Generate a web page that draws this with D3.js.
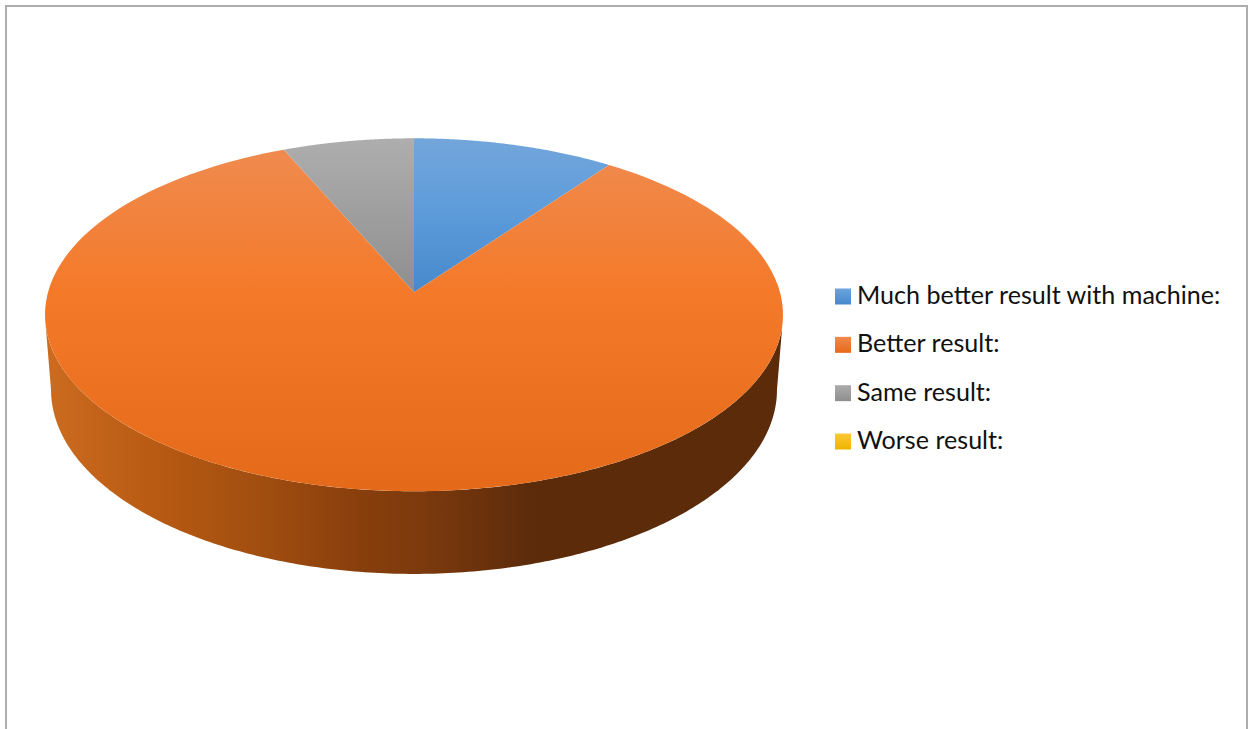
<!DOCTYPE html>
<html>
<head>
<meta charset="utf-8">
<script src="https://cdn.jsdelivr.net/npm/d3@7"></script>
<style>
html,body{margin:0;padding:0;background:#fff;overflow:hidden}
svg{display:block}
text{font-family:Lato,"Open Sans",sans-serif;fill:#111}
</style>
</head>
<body>
<svg id="c" width="1250" height="729"></svg>
<script>
const categories = ["Much better result with machine:", "Better result:", "Same result:", "Worse result:"];
const values = [10, 83.5, 6.5, 0];
const topStops = [
  [["0", "#73a6da"], ["0.2", "#5e9cdb"], ["0.45", "#4688cb"], ["1", "#3f7fc0"]],
  [["0", "#ef8c52"], ["0.45", "#f47928"], ["1", "#e46a1a"]],
  [["0", "#aeaeae"], ["0.43", "#8f8f8f"], ["1", "#858585"]],
  [["0", "#ffc62e"], ["1", "#eab200"]]
];
const legendStops = [
  ["#6aa5de", "#4689cc"], ["#f08a4e", "#e8691a"], ["#acacac", "#8e8e8e"], ["#ffc733", "#eeb400"]
];
const wallOffsets = [0, 0.14, 0.28, 0.42, 0.52, 0.66, 1];
const wallColors = ["#cc6c20", "#b95b13", "#a34f10", "#8a3f0c", "#7a390d", "#5c2b0a", "#5c2b0a"];

const svg = d3.select("#c");
const defs = svg.append("defs");
const W = 1250, H = 729;

// frame, open at the bottom like the cropped original
svg.append("path")
  .attr("d", d3.line()([[6, H + 5], [6, 6], [1247, 6], [1247, H + 5]]))
  .attr("fill", "none").attr("stroke", "#adadad").attr("stroke-width", 2);

// Perspective view of a flat disc: k is the foreshortening of the far half
const k = 0.1274;
const persp = p => {
  const x = d3.scaleLinear().domain([-1, 1]).range([p.cx - p.a, p.cx + p.a]);
  const y = d3.scaleLinear().domain([-1, 1]).range([p.apex + p.b, p.apex - p.b]);
  return t => {
    const X = Math.sin(t), Y = Math.cos(t), w = 1 + k * Y;
    return [x(X / w), y(Y / w)];
  };
};
const rim = persp({cx: 414, apex: 292.3, a: 366, b: 173.6});
const base = persp({cx: 414, apex: 366.5, a: 360, b: 181});
const apexPt = [414, 292.3];

const line = d3.line();
const pie = d3.pie().sort(null).value(d => d)(values);
const samples = (a, b, n = 160) => d3.range(n + 1).map(i => a + (b - a) * i / n);

const wallGrad = defs.append("linearGradient").attr("id", "wall")
  .attr("gradientUnits", "userSpaceOnUse").attr("x1", 45).attr("x2", 783).attr("y1", 0).attr("y2", 0);
wallOffsets.forEach((o, i) => wallGrad.append("stop").attr("offset", o).attr("stop-color", wallColors[i]));

// wall: widest points of the base up to the rim just under its widest points
const widest = Math.acos(-k), rimJoin = Math.PI / 2 + 0.19;
const wallPts = samples(widest, 2 * Math.PI - widest, 240).map(base)
  .concat(samples(2 * Math.PI - rimJoin, rimJoin, 240).map(rim));
svg.append("path").attr("d", line(wallPts) + "Z").attr("fill", "url(#wall)");

// disc top
topStops.forEach((stops, i) => {
  const g = defs.append("linearGradient").attr("id", "top" + i)
    .attr("gradientUnits", "userSpaceOnUse").attr("x1", 0).attr("x2", 0).attr("y1", 138).attr("y2", 491);
  stops.forEach(s => g.append("stop").attr("offset", s[0]).attr("stop-color", s[1]));
});
svg.append("g").selectAll("path").data(pie.filter(d => d.value > 0)).join("path")
  .attr("d", d => line([apexPt].concat(samples(d.startAngle, d.endAngle).map(rim))) + "Z")
  .attr("fill", d => `url(#top${d.index})`);

// legend
const legendY = d3.scalePoint().domain(categories).range([296.5, 441.5]);
const lg = svg.append("g").selectAll("g").data(categories).join("g")
  .attr("transform", d => `translate(0,${legendY(d)})`);
categories.forEach((c, i) => {
  const g = defs.append("linearGradient").attr("id", "leg" + i).attr("x1", 0).attr("x2", 0).attr("y1", 0).attr("y2", 1);
  g.append("stop").attr("offset", 0).attr("stop-color", legendStops[i][0]);
  g.append("stop").attr("offset", 1).attr("stop-color", legendStops[i][1]);
});
lg.append("rect").attr("x", 835).attr("y", -8).attr("width", 16).attr("height", 16)
  .attr("fill", (d, i) => `url(#leg${i})`);
lg.append("text").attr("x", 857).attr("y", 7.5).attr("font-size", 25.1).text(d => d);
</script>
</body>
</html>
